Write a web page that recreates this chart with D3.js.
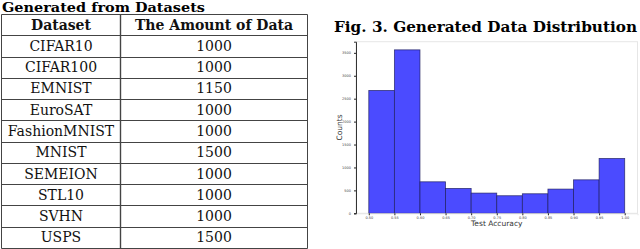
<!DOCTYPE html>
<html>
<head>
<meta charset="utf-8">
<script src="https://cdn.jsdelivr.net/npm/d3@7"></script>
<style>
	body { margin: 0; background: #fff; }
	svg { display: block; }
</style>
</head>
<body>
<div id="chart-area"></div>
<script>
// table data
const datasets = ["CIFAR10", "CIFAR100", "EMNIST", "EuroSAT", "FashionMNIST", "MNIST", "SEMEION", "STL10", "SVHN", "USPS"];
const amounts = [1000, 1000, 1150, 1000, 1000, 1500, 1000, 1000, 1000, 1500];
const tableHeader = ["Dataset", "The Amount of Data"];

// histogram data (bin edges of test accuracy, counts per bin)
const binEdges = [0.50, 0.55, 0.60, 0.65, 0.70, 0.75, 0.80, 0.85, 0.90, 0.95, 1.00];
const counts = [2680, 3565, 687, 543, 441, 383, 426, 528, 730, 1196];
const yTicks = [0, 500, 1000, 1500, 2000, 2500, 3000, 3500];

const W = 640, H = 249;
const serif = "'DejaVu Serif', 'Liberation Serif', serif";
const sans = "'DejaVu Sans', sans-serif";

let svg = d3.select("#chart-area").append("svg")
	.attr("width", W)
	.attr("height", H);

// ---------- Table ----------
let tbl = svg.append("g");

tbl.append("text")
	.attr("x", 2)
	.attr("y", 11.5)
	.attr("font-family", serif)
	.attr("font-weight", "bold")
	.attr("font-size", 13.5)
	.attr("textLength", 203)
	.attr("lengthAdjust", "spacingAndGlyphs")
	.text("Generated from Datasets");

let colX = d3.scaleOrdinal().domain([0, 1, 2]).range([1.5, 120.5, 307.5]);
let rowY = d3.scaleLinear().domain([0, 11]).range([14, 248]);
let rows = [tableHeader].concat(datasets.map((d, i) => [d, String(amounts[i])]));

// horizontal lines
tbl.selectAll("line.h")
	.data(d3.range(12))
	.enter()
	.append("line")
	.attr("class", "h")
	.attr("x1", colX(0))
	.attr("x2", colX(2))
	.attr("y1", d => Math.round(rowY(d)) + 0.5)
	.attr("y2", d => Math.round(rowY(d)) + 0.5)
	.attr("stroke", "#444")
	.attr("stroke-width", 1);

// vertical lines
tbl.selectAll("line.v")
	.data([0, 1, 2])
	.enter()
	.append("line")
	.attr("class", "v")
	.attr("x1", d => colX(d))
	.attr("x2", d => colX(d))
	.attr("y1", Math.round(rowY(0)) + 0.5)
	.attr("y2", Math.round(rowY(11)) + 0.5)
	.attr("stroke", "#444")
	.attr("stroke-width", d => d === 1 ? 1.4 : 1);

// cell texts
rows.forEach((r, i) => {
	r.forEach((t, j) => {
		tbl.append("text")
			.attr("x", (colX(j) + colX(j + 1)) / 2)
			.attr("y", (rowY(i) + rowY(i + 1)) / 2 + 5)
			.attr("text-anchor", "middle")
			.attr("font-family", serif)
			.attr("font-weight", i === 0 ? "bold" : "normal")
			.attr("font-size", 14)
			.attr("fill", "#111")
			.text(t);
	});
});

// ---------- Histogram ----------
svg.append("text")
	.attr("x", 334)
	.attr("y", 32)
	.attr("font-family", serif)
	.attr("font-weight", "bold")
	.attr("font-size", 14)
	.attr("textLength", 303)
	.attr("lengthAdjust", "spacingAndGlyphs")
	.text("Fig. 3. Generated Data Distribution");

let plot = { left: 356, right: 637.5, top: 41.7, bottom: 213.3 };

let x = d3.scaleLinear()
	.domain([0.475, 1.025])
	.range([plot.left, plot.right]);

let y = d3.scaleLinear()
	.domain([0, 3743])
	.range([plot.bottom, plot.top]);

let bins = counts.map((c, i) => ({ x0: binEdges[i], x1: binEdges[i + 1], count: c }));

// light frame
svg.append("rect")
	.attr("x", plot.left)
	.attr("y", plot.top)
	.attr("width", plot.right - plot.left)
	.attr("height", plot.bottom - plot.top)
	.attr("fill", "none")
	.attr("stroke", "#e6e6e6")
	.attr("stroke-width", 1);

svg.selectAll("rect.bar")
	.data(bins)
	.enter()
	.append("rect")
	.attr("class", "bar")
	.attr("x", d => x(d.x0))
	.attr("y", d => y(d.count))
	.attr("width", d => x(d.x1) - x(d.x0))
	.attr("height", d => y(0) - y(d.count))
	.attr("fill", "rgb(75,75,255)")
	.attr("stroke", "#1c1c5a")
	.attr("stroke-opacity", 0.8)
	.attr("stroke-width", 0.8);

// axes
let xAxis = d3.axisBottom(x)
	.tickValues(binEdges)
	.tickSize(2)
	.tickFormat(d3.format(".2f"));

let yAxis = d3.axisLeft(y)
	.tickValues(yTicks)
	.tickSize(2)
	.tickFormat(d3.format("d"));

let gx = svg.append("g")
	.attr("transform", "translate(0," + plot.bottom + ")")
	.call(xAxis);
gx.select(".domain").attr("stroke", "#e6e6e6");
gx.selectAll(".tick line").attr("stroke", "#222");
gx.selectAll(".tick text")
	.attr("font-size", 3.5)
	.attr("font-family", sans)
	.attr("fill", "#444")
	.attr("dy", "0.3em");

let gy = svg.append("g")
	.attr("transform", "translate(" + plot.left + ",0)")
	.call(yAxis);
gy.select(".domain").attr("stroke", "#333").attr("stroke-width", 1);
gy.selectAll(".tick line").attr("stroke", "#222");
gy.selectAll(".tick text")
	.attr("font-size", 3.5)
	.attr("font-family", sans)
	.attr("fill", "#444");

// axis labels
svg.append("text")
	.attr("x", (x(0.5) + x(1.0)) / 2)
	.attr("y", 226)
	.attr("text-anchor", "middle")
	.attr("font-family", sans)
	.attr("font-size", 7.5)
	.attr("fill", "#333")
	.text("Test Accuracy");

svg.append("text")
	.attr("transform", "translate(342," + ((plot.top + plot.bottom) / 2) + ") rotate(-90)")
	.attr("text-anchor", "middle")
	.attr("font-family", sans)
	.attr("font-size", 7.5)
	.attr("fill", "#333")
	.text("Counts");
</script>
</body>
</html>
